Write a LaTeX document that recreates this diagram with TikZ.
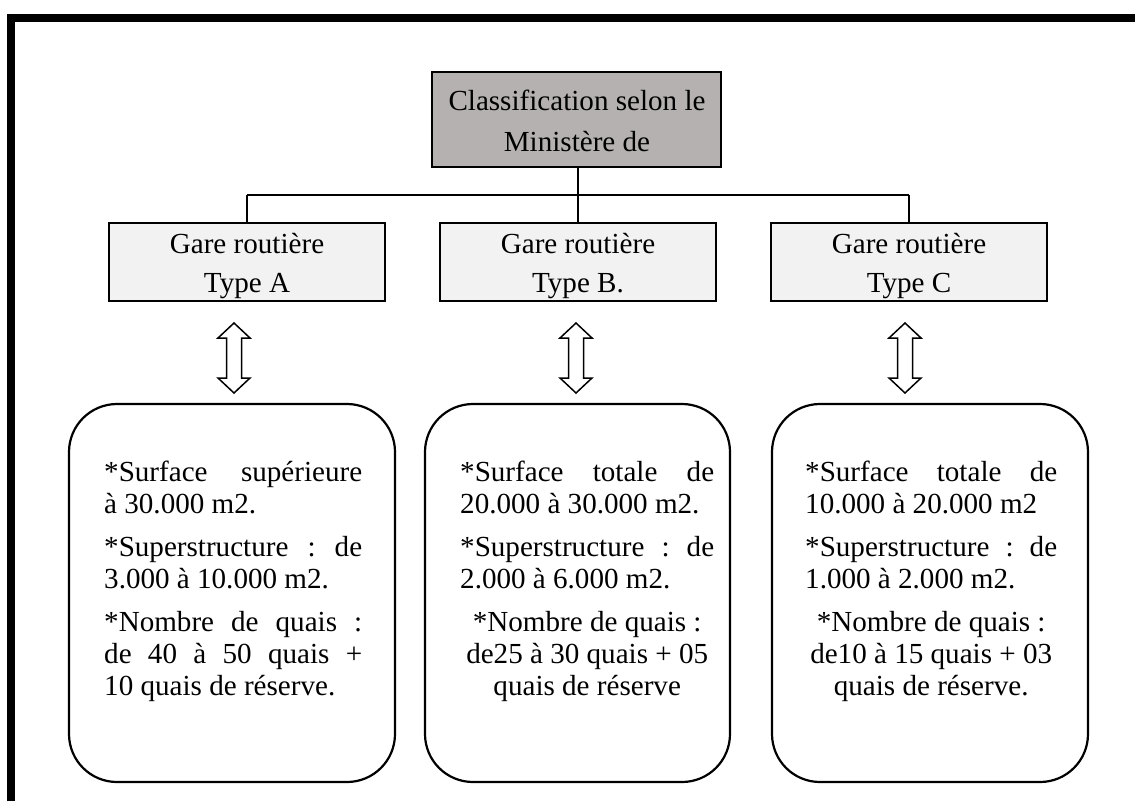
\documentclass[tikz,border=0pt]{standalone}
\usepackage{fontspec}
\setmainfont{Liberation Serif}
\definecolor{headfill}{RGB}{181,177,177}
\definecolor{typefill}{RGB}{242,242,242}
\tikzset{
  headbox/.style={draw, line width=1.6pt, fill=headfill},
  typebox/.style={draw, line width=1.6pt, fill=typefill},
  infobox/.style={draw, line width=2.2pt, rounded corners=48pt},
  link/.style={line width=1.8pt},
  txt/.style={inner sep=0pt, font=\fontsize{29.1}{34}\selectfont},
  dblarrow/.pic={
    \draw[line width=1.5pt, fill=white, line join=miter]
      (-7.5,-20) -- (-7.5,20) -- (-16,20) -- (0,35) -- (16,20) -- (7.5,20)
      -- (7.5,-20) -- (16,-20) -- (0,-35) -- (-16,-20) -- cycle;
  }
}
\newcommand\jline[1]{\hbox to\hsize{#1}}
\newcommand\ctrline[1]{\hbox to\hsize{\hfil#1\hfil}}
\newcommand\parskipbox{\vskip11pt}
\newcommand\infotext[2]{\vtop{\hsize=#1\baselineskip=32pt \lineskiplimit=-20pt #2}}
\begin{document}
\begin{tikzpicture}[x=1pt,y=-1pt]
\useasboundingbox (0,0) rectangle (1135,801);

% outer frame (top and left edges)
\draw[line width=8pt, line join=miter] (11,801) -- (11,17.5) -- (1135,17.5);

% head box
\draw[headbox] (432,72) rectangle (721,167);
\coordinate (headS) at (578,167);
\node[txt, anchor=base] (head1) at (577,110) {Classification selon le};
\node[txt, anchor=base] (head2) at (577,151) {Ministère de};

% type boxes
\draw[typebox] (109,223) rectangle (385,301);
\draw[typebox] (440,223) rectangle (716,301);
\draw[typebox] (771,223) rectangle (1047,301);
\coordinate (aN) at (247,223);
\coordinate (bN) at (578,223);
\coordinate (cN) at (909,223);
\node[txt, anchor=base] (a1) at (247,253) {Gare routière};
\node[txt, anchor=base] (a2) at (247,292) {Type A};
\node[txt, anchor=base] (b1) at (578,253) {Gare routière};
\node[txt, anchor=base] (b2) at (578,292) {Type B.};
\node[txt, anchor=base] (c1) at (909,253) {Gare routière};
\node[txt, anchor=base] (c2) at (909,292) {Type C};

% tree connectors
\coordinate (forkA) at (247,195);
\coordinate (forkC) at (909,195);
\draw[link] (headS) -- (bN);
\draw[link] (forkA) -- (forkC);
\draw[link] (forkA) -- (aN);
\draw[link] (forkC) -- (cN);

% double arrows
\pic at (234,358) {dblarrow};
\pic at (576,358) {dblarrow};
\pic at (905,358) {dblarrow};

% information boxes
\draw[infobox] (69,404) rectangle (395,782);
\draw[infobox] (425,404) rectangle (730,782);
\draw[infobox] (772,404) rectangle (1088,782);

\node[txt, anchor=base west] (infoA) at (104,481) {\infotext{258pt}{%
  \jline{*Surface\hfill supérieure}
  \hbox{à 30.000 m2.}
  \parskipbox
  \jline{*Superstructure\hfill :\hfill de}
  \hbox{3.000 à 10.000 m2.}
  \parskipbox
  \jline{*Nombre\hfill de\hfill quais\hfill :}
  \jline{de\hfill 40\hfill à\hfill 50\hfill quais\hfill +}
  \hbox{10 quais de réserve.}}};

\node[txt, anchor=base west] (infoB) at (460,481) {\infotext{254pt}{%
  \jline{*Surface\hfill totale\hfill de}
  \hbox{20.000 à 30.000 m2.}
  \parskipbox
  \jline{*Superstructure\hfill :\hfill de}
  \hbox{2.000 à 6.000 m2.}
  \parskipbox
  \ctrline{*Nombre de quais :}
  \ctrline{de25 à 30 quais + 05}
  \ctrline{quais de réserve}}};

\node[txt, anchor=base west] (infoC) at (805,481) {\infotext{252pt}{%
  \jline{*Surface\hfill totale\hfill de}
  \hbox{10.000 à 20.000 m2}
  \parskipbox
  \jline{*Superstructure\hfill :\hfill de}
  \hbox{1.000 à 2.000 m2.}
  \parskipbox
  \ctrline{*Nombre de quais :}
  \ctrline{de10 à 15 quais + 03}
  \ctrline{quais de réserve.}}};
\end{tikzpicture}
\end{document}
